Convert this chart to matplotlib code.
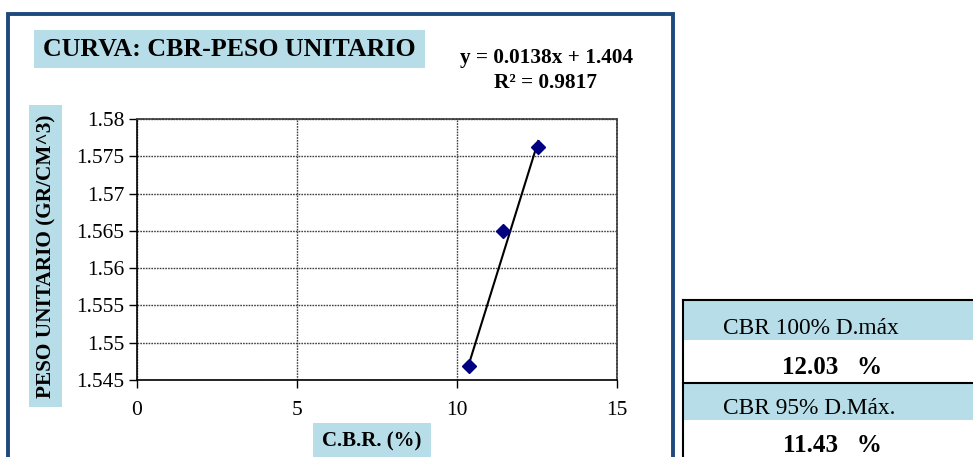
import matplotlib
matplotlib.use("Agg")
import matplotlib.pyplot as plt
from matplotlib.patches import Rectangle
from matplotlib.lines import Line2D
import numpy as np

plt.rcParams['font.family'] = ['Liberation Serif', 'DejaVu Serif']

# Data
cbr = [10.38, 11.45, 12.54]
peso = [1.5469, 1.5650, 1.5763]
slope = 0.0138
intercept = 1.404
r2 = 0.9817
x_ticks = [0, 5, 10, 15]
y_ticks = [1.545, 1.55, 1.555, 1.56, 1.565, 1.57, 1.575, 1.58]
y_tick_labels = ['1.545', '1.55', '1.555', '1.56', '1.565', '1.57', '1.575', '1.58']
cbr_100 = 12.03
cbr_95 = 11.43

W, H = 973, 457
fig = plt.figure(figsize=(W / 100, H / 100), dpi=100)


def fx(px):
    return px / W


def fy(py):
    return 1 - py / H


def box(x0, y0, x1, y1, **kw):
    fig.add_artist(Rectangle((fx(x0), fy(y1)), fx(x1) - fx(x0), fy(y0) - fy(y1),
                             transform=fig.transFigure, **kw))


def hline(x0, x1, y, **kw):
    fig.add_artist(Line2D([fx(x0), fx(x1)], [fy(y), fy(y)], transform=fig.transFigure, **kw))


def vline(x, y0, y1, **kw):
    fig.add_artist(Line2D([fx(x), fx(x)], [fy(y0), fy(y1)], transform=fig.transFigure, **kw))


blue_fill = '#B7DEE8'

# Outer chart frame
box(8, 13.5, 673, 480, fill=False, edgecolor='#1F497D', linewidth=2.8)

# Title
box(34, 30, 425, 68, facecolor=blue_fill, edgecolor='none')
fig.text(fx(229), fy(50), 'CURVA: CBR-PESO UNITARIO', ha='center', va='center',
         fontsize=18.6, fontweight='bold')

# Axis label boxes
box(29, 105, 62, 407, facecolor=blue_fill, edgecolor='none')
fig.text(fx(46), fy(256), 'PESO UNITARIO (GR/CM^3)', ha='center', va='center',
         rotation=90, fontsize=15.3, fontweight='bold')
box(313, 423, 431, 470, facecolor=blue_fill, edgecolor='none')
fig.text(fx(372), fy(441), 'C.B.R. (%)', ha='center', va='center',
         fontsize=15, fontweight='bold')

# Plot area
ax = fig.add_axes([fx(137), fy(380), fx(617) - fx(137), fy(119) - fy(380)])
ax.set_xlim(0, 15)
ax.set_ylim(1.545, 1.58)
ax.set_xticks(x_ticks)
ax.set_xticklabels([str(t) for t in x_ticks])
ax.set_yticks(y_ticks)
ax.set_yticklabels(y_tick_labels)
ax.tick_params(axis='both', direction='out', length=6, width=1, labelsize=15.5,
               colors='black')
ax.tick_params(axis='y', pad=3)
ax.tick_params(axis='x', pad=9)
ax.grid(True, color='#404040', linestyle=(0, (1.2, 0.8)), linewidth=1.0)
for side in ('top', 'right'):
    ax.spines[side].set_color('#404040')
    ax.spines[side].set_linestyle((0, (1.2, 0.8)))
    ax.spines[side].set_linewidth(1.2)
for side in ('left', 'bottom'):
    ax.spines[side].set_color('black')
    ax.spines[side].set_linewidth(1.2)

# Linear trend line over the data range
xl = np.array([min(cbr), max(cbr)])
ax.plot(xl, slope * xl + intercept, color='black', linewidth=1.5, zorder=3)
ax.plot(cbr, peso, linestyle='none', marker='D', markersize=7,
        markerfacecolor='#000080', markeredgecolor='#000080', zorder=4, clip_on=False)

# Trend equation
fig.text(fx(546), fy(58), f'y = {slope}x + {intercept}', ha='center', va='center',
         fontsize=15.3, fontweight='bold')
fig.text(fx(546), fy(83), f'R² = {r2}', ha='center', va='center',
         fontsize=15.3, fontweight='bold')

# Result table
box(683, 300, 990, 340, facecolor=blue_fill, edgecolor='none')
box(683, 383, 990, 420, facecolor=blue_fill, edgecolor='none')
hline(683, 990, 300, color='black', linewidth=1.5)
hline(683, 990, 383, color='black', linewidth=1.5)
vline(683, 300, 470, color='black', linewidth=1.5)
fig.text(fx(723), fy(328), 'CBR 100% D.máx', ha='left', va='center', fontsize=16.8)
fig.text(fx(832), fy(367), f'{cbr_100:.2f}   %', ha='center', va='center',
         fontsize=18, fontweight='bold')
fig.text(fx(723), fy(408), 'CBR 95% D.Máx.', ha='left', va='center', fontsize=16.8)
fig.text(fx(832), fy(446), f'{cbr_95:.2f}   %', ha='center', va='center',
         fontsize=18, fontweight='bold')

fig.savefig('out.png', dpi=100)
